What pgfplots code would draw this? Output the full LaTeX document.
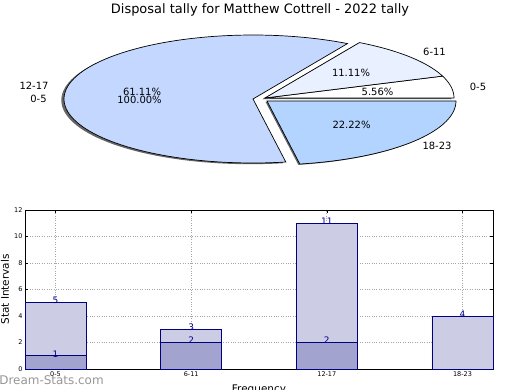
\documentclass[border=0pt]{standalone}
\usepackage{pgfplots}
\pgfplotsset{compat=1.18}
\usepackage{fontspec}
\setmainfont{DejaVu Sans}
\definecolor{pieA}{RGB}{255,255,255}
\definecolor{pieB}{RGB}{233,240,255}
\definecolor{pieC}{RGB}{196,216,255}
\definecolor{pieD}{RGB}{179,212,255}
\definecolor{barL}{RGB}{204,204,228}
\definecolor{barD}{RGB}{163,163,207}
\definecolor{navyE}{RGB}{0,0,128}
\definecolor{labC}{RGB}{0,0,150}
\definecolor{wm}{RGB}{150,150,150}
% pie data: 0-5, 6-11, 12-17, 18-23
\def\vA{1}\def\vB{2}\def\vC{11}\def\vD{4}
\pgfmathsetmacro\tot{\vA+\vB+\vC+\vD}
\pgfmathsetmacro\aA{360*\vA/\tot}
\pgfmathsetmacro\aB{\aA+360*\vB/\tot}
\pgfmathsetmacro\aC{\aB+360*\vC/\tot}
\begin{document}
\begin{tikzpicture}
\useasboundingbox (0,0) rectangle (520bp,390bp);
% ---------------- pie ----------------
\begin{axis}[at={(0,0)}, anchor=south west, x=1bp, y=1bp,
  xmin=0, xmax=520, ymin=0, ymax=390, hide axis, clip=false]
% shadows
\addplot[draw=none, fill=black!60, domain=0:\aA, samples=20, variable=\t]
  ({262.5+189*cos(t)},{290.8+64*sin(t)}) -- (axis cs:262.5,290.8) -- cycle;
\addplot[draw=none, fill=black!60, domain=\aA:\aB, samples=30, variable=\t]
  ({262.5+189*cos(t)},{290.8+64*sin(t)}) -- (axis cs:262.5,290.8) -- cycle;
\addplot[draw=none, fill=black!60, domain=\aB:\aC, samples=90, variable=\t]
  ({250.3+189*cos(t)},{289.8+64*sin(t)}) -- (axis cs:250.3,289.8) -- cycle;
\addplot[draw=none, fill=black!60, domain=\aC:360, samples=40, variable=\t]
  ({265.5+189*cos(t)},{288.2+64*sin(t)}) -- (axis cs:265.5,288.2) -- cycle;
% slices
\addplot[draw=black, line width=0.7bp, fill=pieA, domain=0:\aA, samples=20, variable=\t]
  ({265+189*cos(t)},{292+64*sin(t)}) -- (axis cs:265,292) -- cycle;
\addplot[draw=black, line width=0.7bp, fill=pieB, domain=\aA:\aB, samples=30, variable=\t]
  ({265+189*cos(t)},{292+64*sin(t)}) -- (axis cs:265,292) -- cycle;
\addplot[draw=black, line width=0.7bp, fill=pieC, domain=\aB:\aC, samples=90, variable=\t]
  ({253+189*cos(t)},{291+64*sin(t)}) -- (axis cs:253,291) -- cycle;
\addplot[draw=black, line width=0.7bp, fill=pieD, domain=\aC:360, samples=40, variable=\t]
  ({267+189*cos(t)},{289+64*sin(t)}) -- (axis cs:267,289) -- cycle;
% texts
\node[font=\fontsize{13}{15}\selectfont] at (axis cs:260,380) {Disposal tally for Matthew Cottrell - 2022 tally};
\node[font=\fontsize{10}{12}\selectfont] at (axis cs:434.5,338) {6-11};
\node[font=\fontsize{10}{12}\selectfont] at (axis cs:478,303) {0-5};
\node[font=\fontsize{10}{12}\selectfont] at (axis cs:437,244) {18-23};
\node[font=\fontsize{10}{12}\selectfont] at (axis cs:34,304) {12-17};
\node[font=\fontsize{10}{12}\selectfont] at (axis cs:38.5,291) {0-5};
\node[font=\fontsize{10}{12}\selectfont] at (axis cs:351,317) {11.11\%};
\node[font=\fontsize{10}{12}\selectfont] at (axis cs:377.5,298) {5.56\%};
\node[font=\fontsize{10}{12}\selectfont] at (axis cs:351.5,265) {22.22\%};
\node[font=\fontsize{10}{12}\selectfont] at (axis cs:142,298) {61.11\%};
\node[font=\fontsize{10}{12}\selectfont] at (axis cs:139.5,290.5) {100.00\%};
\node[font=\fontsize{12}{14}\selectfont, text=wm] at (axis cs:51.5,10) {Dream-Stats.com};
\end{axis}
% ---------------- bars ----------------
\begin{axis}[at={(25bp,21bp)}, anchor=south west, scale only axis,
  width=468bp, height=159bp,
  xmin=-0.225, xmax=3.225, ymin=0, ymax=12,
  xtick={0,1,2,3}, xticklabels={0-5,6-11,12-17,18-23},
  ytick={0,2,4,6,8,10,12},
  ybar, bar width=0.45, bar shift=0pt,
  tick align=inside, major tick length=3bp,
  tick style={black, line width=0.5bp},
  grid=major, grid style={dotted, gray!70, line width=0.7bp},
  axis line style={black, line width=0.8bp},
  ticklabel style={font=\fontsize{6.5}{7}\selectfont},
  /pgf/number format/assume math mode=true,
  xtick pos=both, ytick pos=both,
  xticklabel pos=lower, yticklabel pos=left,
  xticklabel style={yshift=1bp},
  yticklabel style={xshift=1bp},
  xlabel={Frequency}, ylabel={Stat Intervals},
  label style={font=\fontsize{10.5}{12}\selectfont},
  xlabel style={at={(axis description cs:0.5,0)}, anchor=center, yshift=-21bp},
  ylabel style={at={(axis description cs:0,0.5)}, anchor=center, rotate=0, yshift=20bp},
  nodes near coords,
  every node near coord/.append style={anchor=center, yshift=2bp, text=labC, font=\fontsize{9}{10}\selectfont},
  clip=false]
\addplot[draw=navyE, line width=0.8bp, fill=barL] coordinates {(0,5) (1,3) (2,11) (3,4)};
\addplot[draw=navyE, line width=0.8bp, fill=barD] coordinates {(0,1) (1,2) (2,2)};
\end{axis}
\end{tikzpicture}
\end{document}
